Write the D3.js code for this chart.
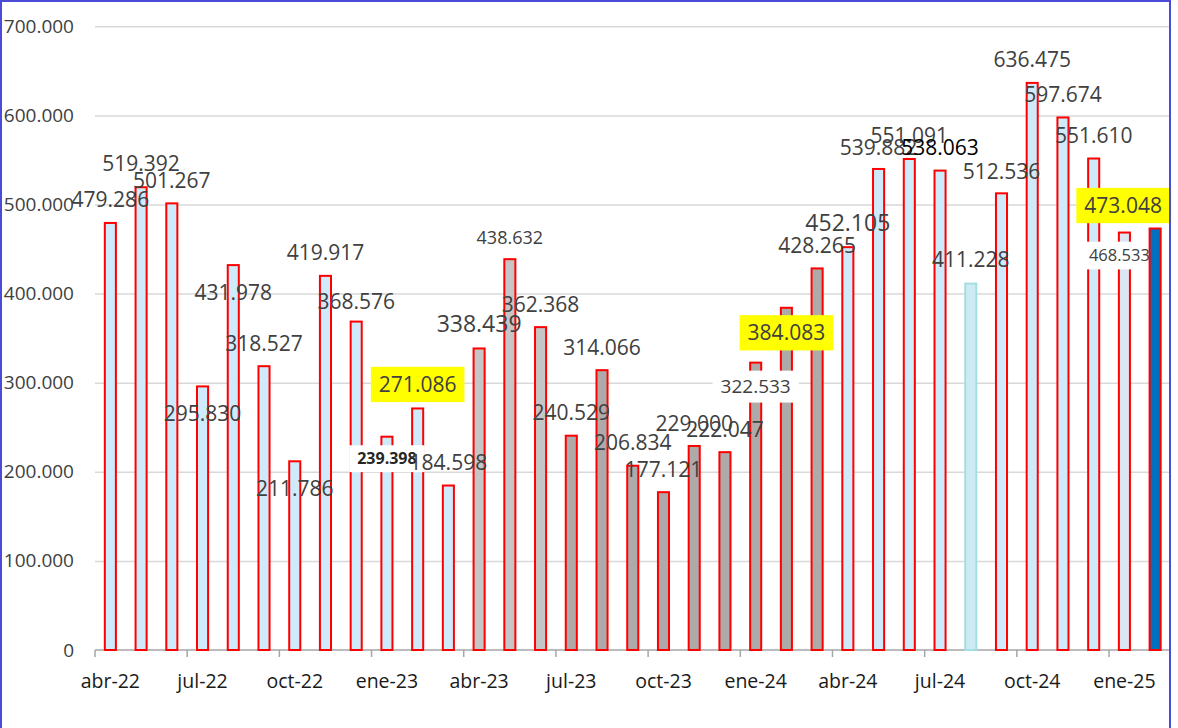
<!DOCTYPE html>
<html>
<head>
<meta charset="utf-8">
<script src="https://cdn.jsdelivr.net/npm/d3@7"></script>
<style>
  html, body { margin: 0; padding: 0; background: #ffffff; }
  svg { display: block; }
</style>
</head>
<body>
<svg id="chart" width="1178" height="728"></svg>
<script>
// ---------------- DATA ----------------
const months = [
  "abr-22","may-22","jun-22","jul-22","ago-22","sep-22","oct-22","nov-22","dic-22",
  "ene-23","feb-23","mar-23","abr-23","may-23","jun-23","jul-23","ago-23","sep-23","oct-23","nov-23","dic-23",
  "ene-24","feb-24","mar-24","abr-24","may-24","jun-24","jul-24","ago-24","sep-24","oct-24","nov-24","dic-24",
  "ene-25","feb-25"
];
const values = [
  479286, 519392, 501267, 295830, 431978, 318527, 211786, 419917, 368576,
  239398, 271086, 184598, 338439, 438632, 362368, 240529, 314066, 206834, 177121, 229000, 222047,
  322533, 384083, 428265, 452105, 539882, 551091, 538063, 411228, 512536, 636475, 597674, 551610,
  468533, 473048
];
const xTickLabels = ["abr-22","jul-22","oct-22","ene-23","abr-23","jul-23","oct-23","ene-24","abr-24","jul-24","oct-24","ene-25"];
const yTickValues = [0, 100000, 200000, 300000, 400000, 500000, 600000, 700000];

// ---------------- STYLES ----------------
const LB = "#cfeafa", G1 = "#c6c6c6", G2 = "#aeaaaa";
const barFill = [
  LB,LB,LB,LB,LB,LB,LB,LB,LB,LB,LB,LB,
  G1,G1,G1,
  G2,G2,G2,G2,G2,G2,G2,G2,G2,
  LB,LB,LB,LB,
  "#cdebf5",
  LB,LB,LB,LB,
  "#dce6f2","#0070c0"
];
const barStroke = months.map((d,i) => i === 28 ? "#a3dfe0" : "#ff0000");
// label offset (px) of label centre from bar top, and horizontal shift
const labelDy = [-24,-24,-23,27,27,-23,27,-23,-20,22,
                 -24,-23,-25,-22,-23,-23,-23,-23,-23,-23,
                 -23,24,25,-23,-24,-22,-24,-23,-24,-22,
                 -23,-23.5,-23.5,23,-23];
const labelDx = months.map((d,i) => i === 34 ? -32 : (i === 33 ? -5 : 0));
const labelSize = months.map((d,i) => ({9:16, 12:23, 13:18, 21:19, 24:23, 33:16.5}[i] || 21));
const labelBox = months.map((d,i) => ({9:"#ffffff", 10:"#ffff00", 21:"#ffffff", 22:"#ffff00", 33:"#ffffff", 34:"#ffff00"}[i] || null));
const labelColor = months.map((d,i) => i === 27 ? "#000000" : (i === 9 ? "#262626" : "#404040"));
const labelWeight = months.map((d,i) => i === 9 ? "bold" : "normal");

// ---------------- CHART ----------------
const FONT = "'Open Sans', 'Noto Sans', sans-serif";
const svg = d3.select("#chart");
const plotLeft = 95, plotRight = 1170.5, plotTop = 26.3, plotBottom = 650;

const locale = d3.formatLocale({decimal: ",", thousands: ".", grouping: [3], currency: ["", "€"]});
const fmt = locale.format(",d");

const x = d3.scaleBand().domain(months).range([plotLeft, plotRight]).paddingInner(0.64).paddingOuter(0.32);
const y = d3.scaleLinear().domain([0, 700000]).range([plotBottom, plotTop]);

svg.append("rect").attr("x",0).attr("y",0).attr("width",1178).attr("height",728).attr("fill","#fff");

// gridlines
const grid = svg.append("g").attr("transform", `translate(${plotLeft},0)`)
  .call(d3.axisLeft(y).tickValues(yTickValues.filter(v => v > 0)).tickSize(-(plotRight - plotLeft)).tickFormat(""));
grid.select(".domain").remove();
grid.selectAll("line").attr("stroke", "#d9d9d9").attr("stroke-width", 1.5);

// y labels
const ya = svg.append("g").attr("transform", `translate(${plotLeft},0)`)
  .call(d3.axisLeft(y).tickValues(yTickValues).tickSize(0).tickPadding(21).tickFormat(fmt));
ya.select(".domain").remove();
ya.selectAll("text").attr("font-family", FONT).attr("font-size", 19).attr("fill", "#404040");

// x axis line
svg.append("line").attr("x1", plotLeft).attr("x2", plotRight).attr("y1", plotBottom).attr("y2", plotBottom)
  .attr("stroke", "#a6a6a6").attr("stroke-width", 1.5);
const slotOffset = (x.step() - x.bandwidth()) / 2;
svg.append("g").selectAll("line").data(xTickLabels).join("line")
  .attr("x1", d => x(d) - slotOffset).attr("x2", d => x(d) - slotOffset)
  .attr("y1", plotBottom).attr("y2", plotBottom + 7)
  .attr("stroke", "#a6a6a6").attr("stroke-width", 1.5);

const xa = svg.append("g").attr("transform", `translate(0,${plotBottom})`)
  .call(d3.axisBottom(x).tickValues(xTickLabels).tickSize(0));
xa.select(".domain").remove();
xa.selectAll("text").attr("font-family", FONT).attr("font-size", 19.5).attr("fill", "#1a1a1a")
  .attr("y", 31).attr("dy", "0.35em");

// bars
const idx = d3.range(months.length);
function drawBars(sel) {
  svg.append("g").selectAll("rect").data(sel).join("rect")
    .attr("x", i => x(months[i]))
    .attr("y", i => y(values[i]))
    .attr("width", x.bandwidth())
    .attr("height", i => y(0) - y(values[i]))
    .attr("fill", i => barFill[i])
    .attr("stroke", i => barStroke[i])
    .attr("stroke-width", 2);
}
function drawLabels(sel) {
  const g = svg.append("g");
  sel.forEach(i => {
    const cx = x(months[i]) + x.bandwidth() / 2 + labelDx[i];
    const cy = y(values[i]) + labelDy[i];
    const lg = g.append("g");
    const t = lg.append("text")
      .attr("x", cx).attr("y", cy).attr("dy", "0.36em")
      .attr("text-anchor", "middle")
      .attr("font-family", FONT).attr("font-size", labelSize[i])
      .attr("font-weight", labelWeight[i])
      .attr("fill", labelColor[i])
      .text(fmt(values[i]));
    if (labelBox[i]) {
      const bb = t.node().getBBox();
      const h = labelSize[i] * 1.68;
      lg.insert("rect", "text")
        .attr("x", bb.x - 8).attr("y", cy - h / 2)
        .attr("width", bb.width + 16).attr("height", h)
        .attr("fill", labelBox[i]);
    }
  });
}
drawBars(idx.slice(0, 34));
drawLabels(idx.slice(0, 34));
drawBars([34]);
drawLabels([34]);

// outer border
svg.append("rect").attr("x", 1).attr("y", 1).attr("width", 1169).attr("height", 780)
  .attr("fill", "none").attr("stroke", "#4b4bd8").attr("stroke-width", 2);
</script>
</body>
</html>
